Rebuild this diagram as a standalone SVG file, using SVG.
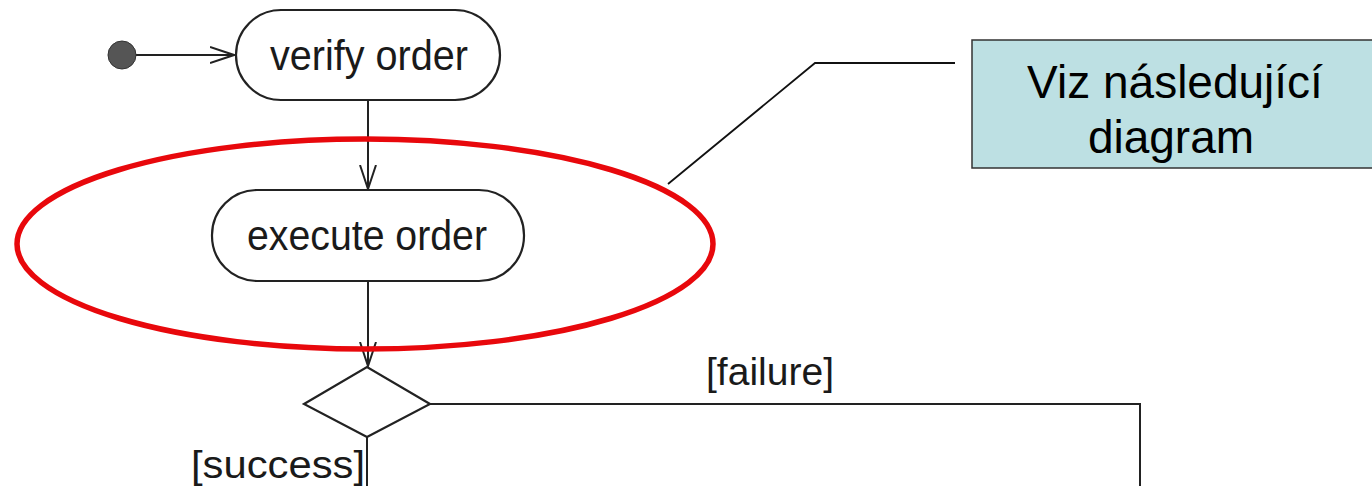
<svg xmlns="http://www.w3.org/2000/svg" width="1372" height="486" viewBox="0 0 1372 486">
<defs>
<style>
.node{fill:#fff;stroke:#222;stroke-width:2.2}
.lbl{font-family:"Liberation Sans",Arial,sans-serif;font-size:42px;fill:#1a1a1a;text-anchor:middle}
.grd{font-family:"Liberation Sans",Arial,sans-serif;font-size:38px;fill:#1a1a1a;text-anchor:middle}
.edge{fill:none;stroke:#222;stroke-width:2}
.note{font-family:"Liberation Sans",Arial,sans-serif;font-size:46px;fill:#000;text-anchor:middle}
</style>
<marker id="open" markerWidth="26" markerHeight="18" refX="24" refY="9" orient="auto" markerUnits="userSpaceOnUse">
<path d="M0,1 L24,9 L0,17" fill="none" stroke="#222" stroke-width="2"/>
</marker>
</defs>
<rect width="1372" height="486" fill="#fff"/>
<g id="connectors">
<line class="edge" x1="136" y1="55" x2="234" y2="55" marker-end="url(#open)"/>
<line class="edge" x1="368" y1="100" x2="368" y2="189" marker-end="url(#open)"/>
<line class="edge" x1="368" y1="281" x2="368" y2="366" marker-end="url(#open)"/>
<polyline class="edge" points="430,404 1140,404 1140,486"/>
<line class="edge" x1="367" y1="437" x2="367" y2="486"/>
<polyline fill="none" stroke="#111" stroke-width="1.8" points="668,184 815,63 955,63"/>
</g>
<g id="start"><circle cx="122" cy="55" r="14" fill="#555" stroke="#333" stroke-width="1"/></g>
<g id="verify">
<rect class="node" x="236" y="10" width="264" height="90" rx="45" ry="45"/>
<text class="lbl" x="369" y="70" textLength="198" lengthAdjust="spacingAndGlyphs">verify order</text>
</g>
<g id="execute">
<rect class="node" x="212" y="190" width="312" height="91" rx="45" ry="45"/>
<text class="lbl" x="367" y="250" textLength="240" lengthAdjust="spacingAndGlyphs">execute order</text>
</g>
<g id="decision">
<polygon class="node" points="304,404 367,367 430,404 367,437"/>
<text class="grd" x="770" y="385" textLength="128" lengthAdjust="spacingAndGlyphs">[failure]</text>
<text class="grd" x="278" y="478" textLength="174" lengthAdjust="spacingAndGlyphs">[success]</text>
</g>
<g id="highlight"><ellipse cx="365" cy="244" rx="348" ry="105" fill="none" stroke="#e8080c" stroke-width="5.5"/></g>
<g id="note">
<rect x="972" y="40" width="410" height="128" fill="#bde0e3" stroke="#333" stroke-width="1.5"/>
<text class="note" x="1175" y="98">Viz následující</text>
<text class="note" x="1171" y="153">diagram</text>
</g>
</svg>
